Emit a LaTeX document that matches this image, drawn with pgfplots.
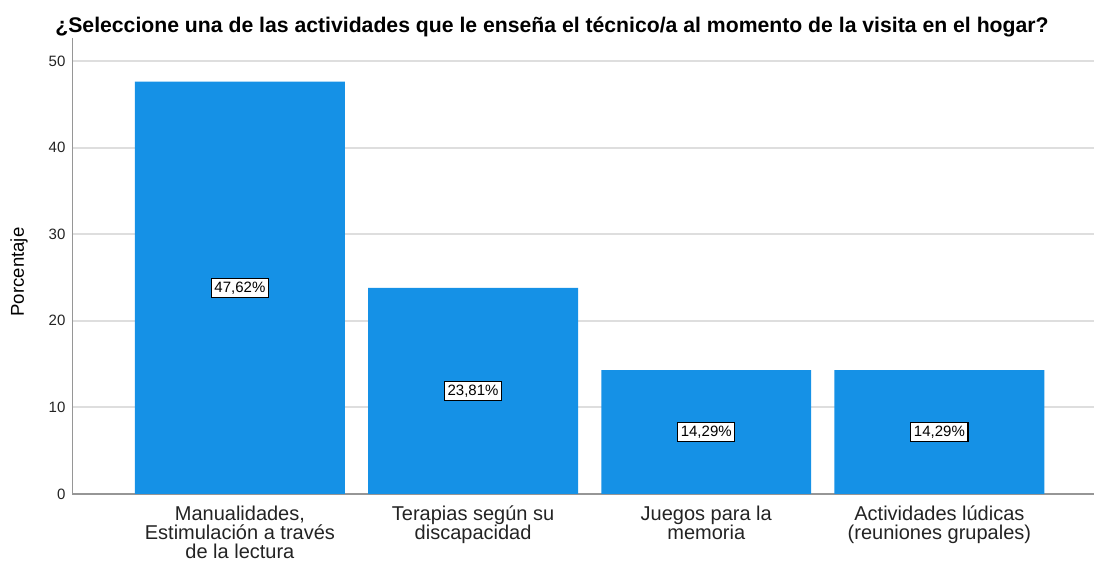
\documentclass[border=0pt]{standalone}
\usepackage{pgfplots}
\pgfplotsset{compat=1.18}
\usepackage{fontspec}
\setmainfont{Liberation Sans}
\definecolor{barblue}{RGB}{21,145,230}
\definecolor{gridgray}{RGB}{222,222,222}
\definecolor{axisgray}{RGB}{150,150,150}
\definecolor{textgray}{RGB}{35,35,35}

\begin{document}
\begin{tikzpicture}
\begin{axis}[
    name=ax, at={(0,0)}, anchor=south west,
    scale only axis,
    width=510.75pt, height=228pt,
    xmin=-0.718, xmax=3.663,
    ymin=0, ymax=52.65,
    axis x line=bottom, axis y line=left,
    axis line style={-, axisgray, line width=0.8pt},
    ytick={0,10,20,30,40,50},
    ymajorgrids=true,
    grid style={gridgray, line width=1pt},
    major tick length=0pt,
    xtick={0,1,2,3},
    xticklabels={{Manualidades,\\Estimulación a través\\de la lectura},
                 {Terapias según su\\discapacidad},
                 {Juegos para la\\memoria},
                 {Actividades lúdicas\\(reuniones grupales)}},
    xticklabel style={align=center, font=\fontsize{10}{9.5}\selectfont, text=textgray, yshift=-2.5pt},
    yticklabel style={font=\fontsize{7.5}{8}\selectfont, text=textgray},
    /pgf/number format/assume math mode=true,
]
\addplot[ybar, bar width=0.9, fill=barblue, draw=none] coordinates {
    (0,47.62) (1,23.81) (2,14.29) (3,14.29)
};
\addplot[draw=none, mark=none, nodes near coords, point meta=explicit symbolic,
    nodes near coords align={center},
    every node near coord/.append style={anchor=center, draw=black, fill=white,
        inner sep=1.6pt, line width=0.6pt, font=\fontsize{7.5}{8}\selectfont, text=black}]
    coordinates {
    (0,23.81) [47,62\%]
    (1,11.905) [23,81\%]
    (2,7.145) [14,29\%]
    (3,7.145) [14,29\%]
};
\end{axis}
\pgfresetboundingbox
\path[use as bounding box] ([shift={(-36.25pt,-34pt)}]ax.south west) rectangle ++(547pt,281pt);
\node[font=\bfseries\fontsize{10.6}{12}\selectfont, anchor=base, text=black]
  at ([shift={(239.75pt,230.5pt)}]ax.south west)
  {¿Seleccione una de las actividades que le enseña el técnico/a al momento de la visita en el hogar?};
\node[rotate=90, font=\fontsize{9.3}{10}\selectfont, text=black]
  at ([shift={(-26.75pt,111pt)}]ax.south west) {Porcentaje};
\end{tikzpicture}
\end{document}
